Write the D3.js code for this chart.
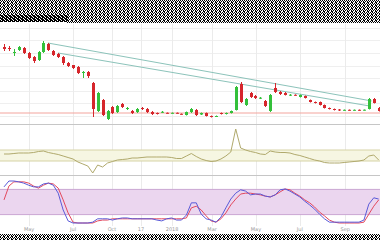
<!DOCTYPE html>
<html><head><meta charset="utf-8">
<script src="https://cdn.jsdelivr.net/npm/d3@7/dist/d3.min.js"></script>
<style>html,body{margin:0;padding:0;background:#fff;overflow:hidden}svg{display:block}</style>
</head><body>
<svg id="c" width="380" height="240"></svg>
<script>
// ---- data ----
const opens  = [78,77,72,75,77,72,68,65,73,81,74,71,68,62,60,58,52,53,42,14,25,6,18,13,21,16.5,14,13,17,16,13,12,13,12.2,12,12.2,11.2,10,13,15,10.5,12,9,8.5,12,11,12,15,41,20,32,29,27,24,14,37,33,32,30,30.2,28,29,25,23,23,20,17,16,15.5,15,15.2,15,15.2,15,16,26,17];
const closes = [76,76,73,78,72,67,64,73,82,75,70,68,62,59,57,52,53,49,16,32,10,14,12,19,18,17,12,16,16,13,11,11,13.2,12,12.2,12,11,13,16,10,12,9,8,9,11,12,14,38,23,26,28,27,27.3,19,30,33,31,30,30.3,30,30,27,23,22,20,17,16,15,14.5,15.2,15,15.2,15,15.3,26,22,14];
const highs  = [81,79,76,79,78,73,69,74,84,82,75,72,69,63,60,59,54,54,43,33,26,15,19,20,22,18,15,17,18,17,14,12.5,14,12.5,12.5,12.5,11.5,13.5,17,16,12.5,12.5,9.5,9.5,12.5,12.5,14.5,39,43,27,33,30,28,25,31,42,34,33,31,30.7,30.5,29.5,25.5,23.5,23.5,20.5,17.5,16.5,16,15.5,15.5,15.5,15.5,15.5,27,27,18];
const lows   = [74,74,69,74,71,66,62,64,72,74,69,67,60,58,56,51,47,47,8,13,9,5,11,12,17,15,11,12,15,12,10,10.5,12,11.5,11.5,11.5,10.5,9.5,12,9,10,8.5,7.5,8,10.5,10.5,11.5,14.5,22,19,27,26,26,18,13,32,30,29.5,29,29.5,27.5,26.5,22.5,21.5,19.5,16.5,15.5,14.5,14,14.5,14.5,14.5,14.5,14.5,15.5,21.5,13.5];
const volatility = [21,21,21.5,22,22,22,22.5,23.5,24,22.5,21.5,20.5,19,17.5,16,13,11,9,2,10,8,12,13.5,15,15.5,16,17,17,17.5,18,18,18,18,18,17.5,16.5,16.5,19,21.5,18.5,16,14.5,13.5,14,16,19,23,46,27,25,23.5,22.5,21,20.5,24,23,22.5,22.5,22,20.5,19.5,18,16.5,15,14,12.5,12,12,12,12.5,13,13.5,14,15,19,20,15];
const stochK = [86,100,100,98,95,90,86,86,93,95,90,71,31,5,0,0,0,0,2,10,10,10,7,10,12,12,10,10,10,10,10,7,5,10,12,7,7,19,48,48,21,10,7,2,14,36,57,71,79,76,67,69,69,64,62,67,79,81,76,69,62,52,43,33,21,10,2,2,2,2,2,2,2,7,45,60,57];
const stochD = [55,88,98,98,98,95,88,83,90,95,93,83,55,24,2,0,0,0,0,5,7,7,10,10,10,10,10,10,10,10,10,10,10,10,10,10,10,12,36,40,31,17,5,2,10,24,43,57,69,71,71,69,67,64,62,67,74,81,79,71,64,55,48,38,26,17,7,2,0,0,0,0,0,2,21,40,55];
const tickIndex  = [5.1, 14, 21.9, 27.8, 34.1, 42.2, 51.1, 60, 69.2];
const tickLabels = ["May","Jul","Oct","17","2018","Mar","May","Jul","Sep"];
const gridPrices = [9, 21.6, 34.2, 46.8, 59.4, 72, 84.6, 97.2];
const trendLines = [ {i0:8.9, p0:82, i1:74.6, p1:24}, {i0:10.95, p0:72, i1:74.2, p1:19} ];
const supportPrice = 12;
const volBand = [14, 25];
const stochBand = [20, 80];

// ---- scales ----
const N = opens.length;
const svg = d3.select("#c");
const x  = d3.scaleLinear().domain([0, N-1]).range([4, 378.7]);
const yP = d3.scaleLinear().domain([0, 100]).range([125, 25]);
const yV = d3.scaleLinear().domain([0, 50]).range([175, 125]);
const yS = d3.scaleLinear().domain([0, 100]).range([223, 181]);

// ---- noise bands (obscured header/footer) ----
const defs = svg.append("defs");
function pat(id, cells){
  const p = defs.append("pattern").attr("id", id).attr("patternUnits","userSpaceOnUse").attr("width",4).attr("height",3);
  p.append("rect").attr("width",4).attr("height",3).attr("fill","#fff");
  cells.forEach(c => p.append("rect").attr("x",c[0]).attr("y",c[1]).attr("width",1).attr("height",1).attr("fill","#000"));
}
pat("nA", [[0,0],[2,0],[1,1],[3,1],[0,2],[3,2]]);
pat("nB", [[0,0],[1,0],[2,0],[1,1],[2,1],[3,1],[0,2],[2,2],[3,2]]);
svg.append("rect").attr("x",0).attr("y",0).attr("width",380).attr("height",15).attr("fill","url(#nA)");
svg.append("rect").attr("x",0).attr("y",15).attr("width",67).attr("height",7).attr("fill","url(#nB)");
svg.append("rect").attr("x",67).attr("y",15).attr("width",313).attr("height",8).attr("fill","url(#nA)");
svg.append("rect").attr("x",0).attr("y",234).attr("width",380).attr("height",6).attr("fill","url(#nA)");

// ---- grid ----
const g = svg.append("g");
g.selectAll(".hg").data(gridPrices).enter().append("line")
  .attr("x1",0).attr("x2",380).attr("y1",d=>Math.round(yP(d))+0.5).attr("y2",d=>Math.round(yP(d))+0.5)
  .attr("stroke","#efefef").attr("stroke-width",1);
g.selectAll(".vg").data(tickIndex).enter().append("line")
  .attr("x1",d=>Math.round(x(d))+0.5).attr("x2",d=>Math.round(x(d))+0.5).attr("y1",24).attr("y2",226)
  .attr("stroke","#ebebeb").attr("stroke-width",1);

// ---- volatility panel ----
svg.append("rect").attr("x",0).attr("width",380).attr("y",yV(volBand[1])).attr("height",yV(volBand[0])-yV(volBand[1]))
  .attr("fill","#f6f6e2");
volBand.forEach(v => svg.append("line").attr("x1",0).attr("x2",380).attr("y1",yV(v)).attr("y2",yV(v)).attr("stroke","#d6d3a6"));
svg.append("path").datum(volatility)
  .attr("d", d3.line().x((d,i)=>x(i)).y(d=>yV(d)))
  .attr("fill","none").attr("stroke","#b0a96c").attr("stroke-width",1);

// ---- stochastic panel ----
svg.append("rect").attr("x",0).attr("width",380).attr("y",yS(stochBand[1])).attr("height",yS(stochBand[0])-yS(stochBand[1]))
  .attr("fill","#ebd6ef");
stochBand.forEach(v => svg.append("line").attr("x1",0).attr("x2",380).attr("y1",yS(v)).attr("y2",yS(v)).attr("stroke","#caa6d3"));
svg.append("path").datum(stochD)
  .attr("d", d3.line().x((d,i)=>x(i)).y(d=>yS(d)))
  .attr("fill","none").attr("stroke","#e3485e").attr("stroke-width",1);
svg.append("path").datum(stochK)
  .attr("d", d3.line().x((d,i)=>x(i)).y(d=>yS(d)))
  .attr("fill","none").attr("stroke","#5a5ad8").attr("stroke-width",1);

// ---- separators ----
svg.append("line").attr("x1",0).attr("x2",380).attr("y1",124.5).attr("y2",124.5).attr("stroke","#c6c6c6");
svg.append("line").attr("x1",0).attr("x2",380).attr("y1",175.5).attr("y2",175.5).attr("stroke","#c6c6c6");

// ---- support line ----
svg.append("line").attr("x1",0).attr("x2",380).attr("y1",yP(supportPrice)).attr("y2",yP(supportPrice))
  .attr("stroke","#f3a49d").attr("stroke-width",1);

// ---- trend lines ----
svg.selectAll(".tl").data(trendLines).enter().append("line")
  .attr("x1",d=>x(d.i0)).attr("y1",d=>yP(d.p0)).attr("x2",d=>x(d.i1)).attr("y2",d=>yP(d.p1))
  .attr("stroke","#8cc3ba").attr("stroke-width",1);

// ---- candles ----
const candles = d3.range(N).map(i => ({i, o:opens[i], c:closes[i], h:highs[i], l:lows[i]}));
const cg = svg.append("g").selectAll("g").data(candles).enter().append("g");
const col = d => d.c >= d.o ? "#33c03a" : "#d6262c";
cg.append("line").attr("x1",d=>Math.round(x(d.i))+0.5).attr("x2",d=>Math.round(x(d.i))+0.5)
  .attr("y1",d=>yP(d.h)).attr("y2",d=>yP(d.l)).attr("stroke",col).attr("stroke-width",1);
cg.append("rect").attr("x",d=>Math.round(x(d.i))-1).attr("width",3)
  .attr("y",d=>yP(Math.max(d.o,d.c)))
  .attr("height",d=>Math.max(1, Math.abs(yP(d.o)-yP(d.c))))
  .attr("fill",col);

// ---- x labels ----
svg.selectAll(".xl").data(tickIndex).enter().append("text")
  .attr("x",d=>x(d)).attr("y",231).attr("text-anchor","middle")
  .attr("font-family","DejaVu Sans, sans-serif").attr("font-size",5).attr("fill","#9a9a9a")
  .text((d,i)=>tickLabels[i]);
</script>
</body></html>
